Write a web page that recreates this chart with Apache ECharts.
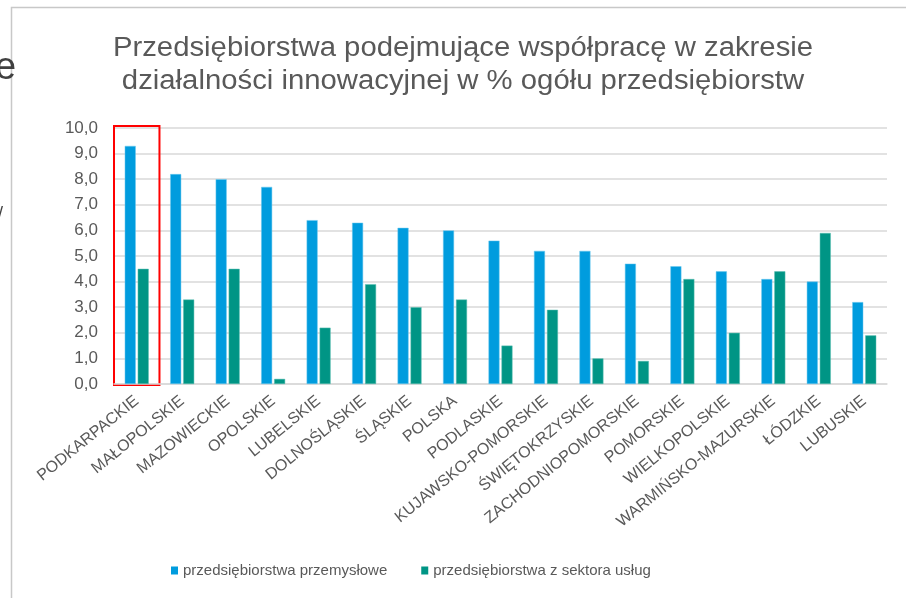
<!DOCTYPE html>
<html>
<head>
<meta charset="utf-8">
<script src="https://cdn.jsdelivr.net/npm/echarts@6/dist/echarts.min.js"></script>
<style>
  html, body { margin: 0; padding: 0; background: #fff; }
  #chart { width: 906px; height: 598px; }
</style>
</head>
<body>
<div id="chart"></div>
<script>
// regions sorted by the industry share
const regions = [
    'PODKARPACKIE', 'MAŁOPOLSKIE', 'MAZOWIECKIE', 'OPOLSKIE', 'LUBELSKIE',
    'DOLNOŚLĄSKIE', 'ŚLĄSKIE', 'POLSKA', 'PODLASKIE', 'KUJAWSKO-POMORSKIE',
    'ŚWIĘTOKRZYSKIE', 'ZACHODNIOPOMORSKIE', 'POMORSKIE', 'WIELKOPOLSKIE',
    'WARMIŃSKO-MAZURSKIE', 'ŁÓDZKIE', 'LUBUSKIE'
];
const industry = [9.3, 8.2, 8.0, 7.7, 6.4, 6.3, 6.1, 6.0, 5.6, 5.2, 5.2, 4.7, 4.6, 4.4, 4.1, 4.0, 3.2];
const services = [4.5, 3.3, 4.5, 0.2, 2.2, 3.9, 3.0, 3.3, 1.5, 2.9, 1.0, 0.9, 4.1, 2.0, 4.4, 5.9, 1.9];
const seriesNames = ['przedsiębiorstwa przemysłowe', 'przedsiębiorstwa z sektora usług'];
const titleLines = ['Przedsiębiorstwa podejmujące współpracę w zakresie', 'działalności innowacyjnej w % ogółu przedsiębiorstw'];
const highlighted = 'PODKARPACKIE';

const font = '"Liberation Sans", Arial, sans-serif';
const grey = '#595959';

let myChart = echarts.init(document.getElementById('chart'));

let option = {
    backgroundColor: '#fff',
    animation: false,
    textStyle: { fontFamily: font },
    grid: { left: 114, right: 19, top: 128, bottom: 214 },
    legend: {
        left: 166, top: 558,
        itemWidth: 7, itemHeight: 8, itemGap: 34,
        icon: 'rect',
        itemStyle: { borderWidth: 0 },
        textStyle: { color: grey, fontSize: 15, fontFamily: font },
        data: seriesNames
    },
    xAxis: {
        type: 'category',
        data: regions,
        axisLine: { lineStyle: { color: '#d9d9d9', width: 1.5 } },
        axisTick: { show: false },
        axisLabel: { rotate: 39, interval: 0, color: grey, fontSize: 16, fontFamily: font, margin: 15 }
    },
    yAxis: {
        type: 'value', min: 0, max: 10, interval: 1,
        axisLine: { show: false },
        axisTick: { show: false },
        splitLine: { lineStyle: { color: '#d9d9d9', width: 1.5 } },
        axisLabel: {
            color: grey, fontSize: 17, fontFamily: font, margin: 16,
            formatter: v => v.toFixed(1).replace('.', ',')
        }
    },
    series: [
        {
            name: seriesNames[0], type: 'bar', data: industry,
            barWidth: 11, barGap: '18%',
            itemStyle: { color: '#009cde', borderColor: '#6cc8ee', borderWidth: 0.5 }
        },
        {
            name: seriesNames[1], type: 'bar', data: services,
            barWidth: 11,
            itemStyle: { color: '#009585', borderColor: '#5cbfb3', borderWidth: 0.5 }
        }
    ]
};
myChart.setOption(option);

// red frame round the highlighted category, title and the page edge bits
let c0 = myChart.convertToPixel({ xAxisIndex: 0 }, regions[0]);
let c1 = myChart.convertToPixel({ xAxisIndex: 0 }, regions[1]);
let band = c1 - c0;
let hx = myChart.convertToPixel({ xAxisIndex: 0 }, highlighted);
let yTop = myChart.convertToPixel({ yAxisIndex: 0 }, 10);
let yBot = myChart.convertToPixel({ yAxisIndex: 0 }, 0);

myChart.setOption({
    graphic: [
        {
            type: 'rect', silent: true,
            shape: { x: hx - band / 2, y: yTop - 2, width: band, height: yBot - yTop + 3 },
            style: { fill: 'none', stroke: '#ff0000', lineWidth: 2 }
        },
        {
            type: 'text', silent: true, x: 463, y: 32, scaleX: 1.085,
            style: {
                text: titleLines.join('\n'), align: 'center', verticalAlign: 'top',
                fill: grey, font: '27px ' + font, lineHeight: 33
            }
        },
        {
            type: 'polyline', silent: true,
            shape: { points: [[11.5, 598], [11.5, 7.5], [906, 7.5]] },
            style: { stroke: '#c8c8c8', lineWidth: 1.5, fill: 'none' }
        },
        {
            type: 'text', silent: true, x: -5, y: 50,
            style: { text: 'e', fill: '#404040', font: '38px ' + font }
        },
        {
            type: 'text', silent: true, x: -2, y: 205,
            style: { text: '/', fill: '#404040', font: '18px ' + font }
        }
    ]
});
</script>
</body>
</html>
